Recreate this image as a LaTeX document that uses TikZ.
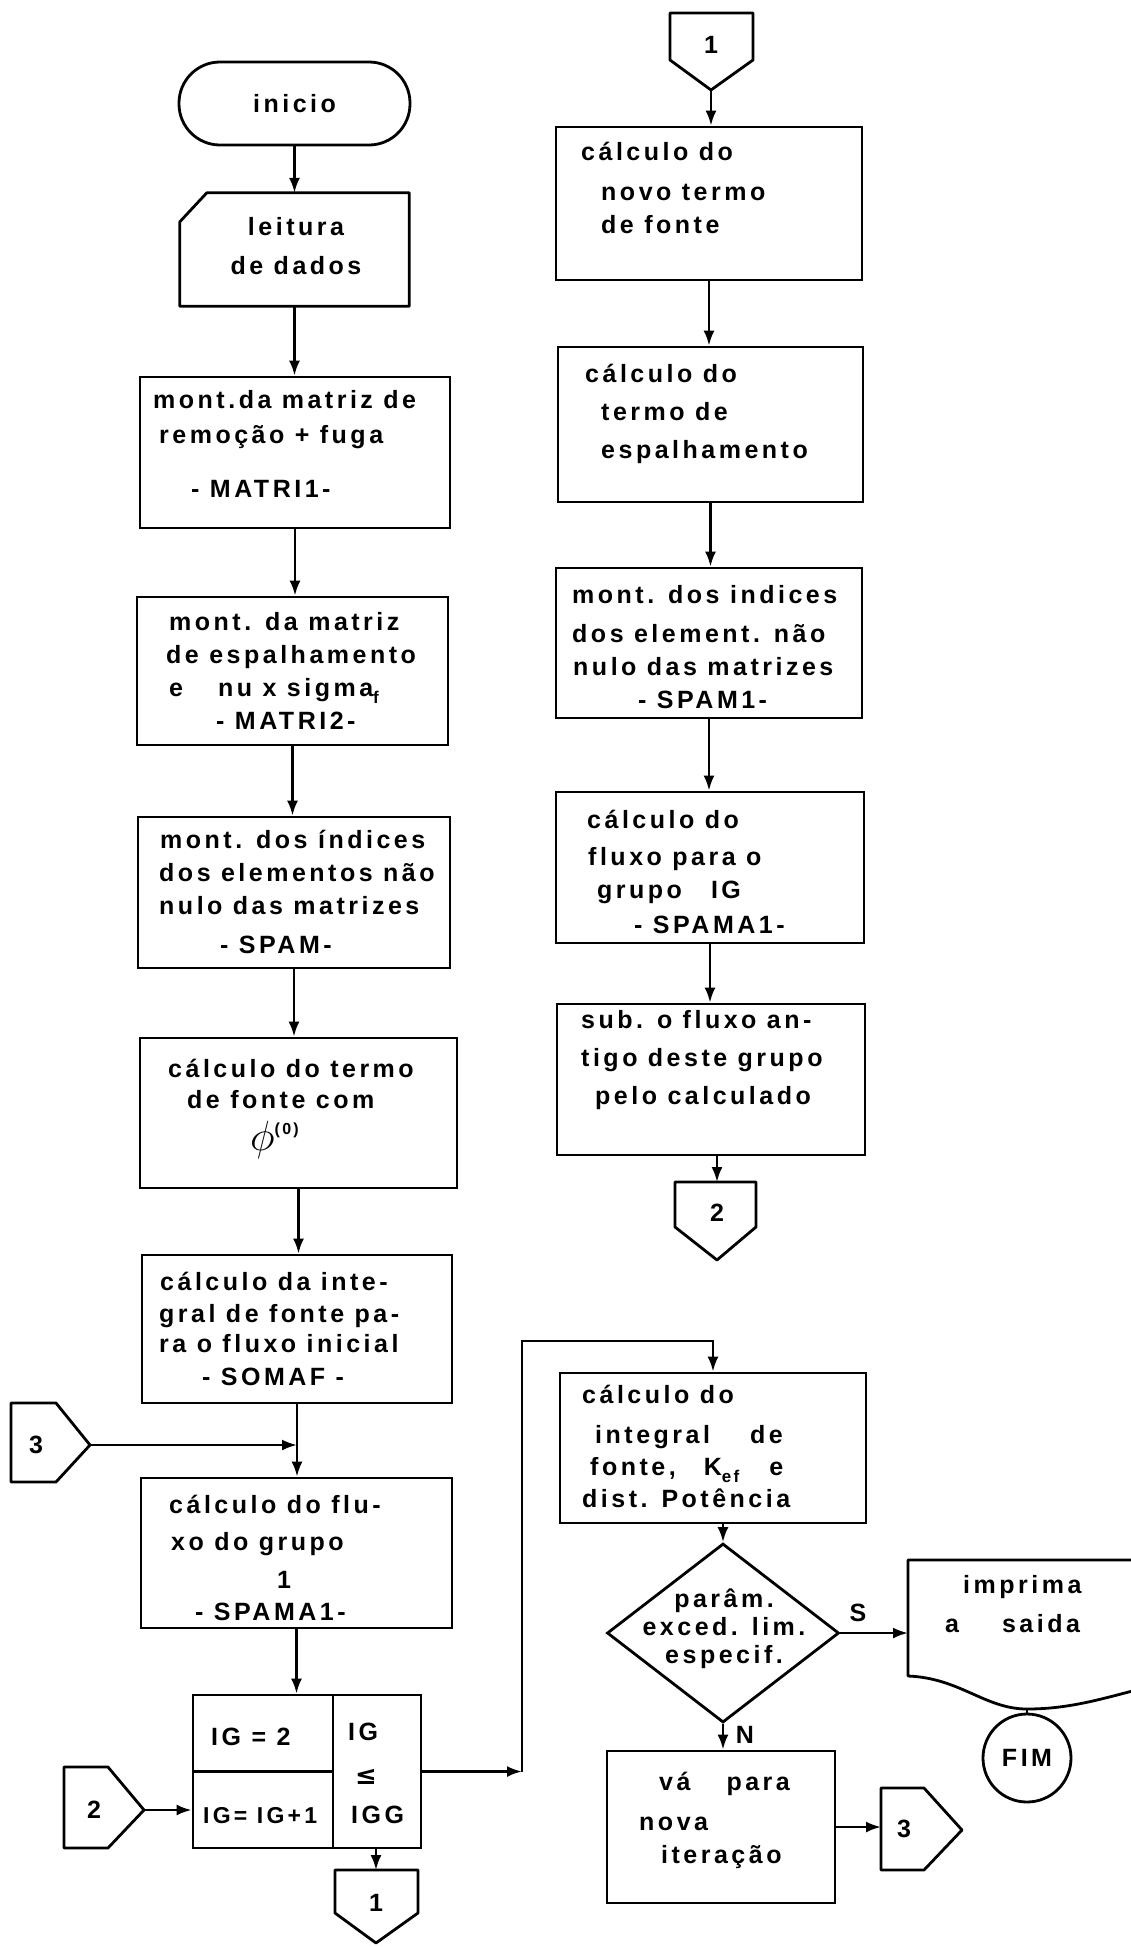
\documentclass[tikz,border=0pt]{standalone}
\usepackage{fontspec}
\usepackage{graphicx}
\newfontfamily\lett{Liberation Sans}[LetterSpace=14]
\newfontfamily\dvs{DejaVu Sans}
\usetikzlibrary{arrows.meta,shapes.geometric,calc}
\newcommand\myst{\rule{0pt}{25pt}}
\newcommand\mysub[1]{\raisebox{-7pt}{\fontsize{17}{17}\selectfont #1}}
\tikzset{
 bx/.style={draw, line width=2.8pt, rectangle, inner sep=0pt},
 shp/.style={line width=2.8pt, line join=round},
 lin/.style={line width=2.5pt},
 arr/.style={line width=2.5pt, -{Latex[length=15pt,width=11pt]}},
 txt/.style={font=\lett\bfseries\fontsize{25}{35}\selectfont, inner sep=0pt, align=left, anchor=north west},
 lbl/.style={font=\lett\bfseries\fontsize{25}{35}\selectfont, inner sep=0pt},
 lbls/.style={font=\lett\bfseries\fontsize{23}{30}\selectfont, inner sep=0pt},
}
\begin{document}
\begin{tikzpicture}[x=1pt,y=-1pt]
\fill[white] (0,0) rectangle (1131,1947);
\useasboundingbox (0,0) rectangle (1131,1947);

% ---------------- left column ----------------
\node[bx, lbl, rounded corners=41pt, minimum width=231pt, minimum height=83pt] (ini) at (294.5,103.5) {inicio};

\node[minimum width=229pt, minimum height=113pt, inner sep=0pt] (leit) at (294.5,249.5) {};
\draw[shp] (leit.south west) -- ($(leit.north west)+(0,29)$) -- ($(leit.north west)+(27,0)$) -- (leit.north east) -- (leit.south east) -- cycle;
\node[lbl, align=center, anchor=north] (tleit) at (296,210) {\myst leitura\\[4pt]de dados};

\node[bx, minimum width=310pt, minimum height=151pt] (m1) at (295,452.5) {};
\node[txt] (tm1) at (153,383) {\myst mont.da matriz de\\\hspace*{6pt}remoção + fuga\\[19pt]\hspace*{38pt}- MATRI1-};

\node[bx, minimum width=311pt, minimum height=148pt] (m2) at (292.5,671) {};
\node[txt] (tm2) at (166,605) {\myst\hspace*{3pt}mont. da matriz\\[-2pt]de espalhamento\\[-2pt]\hspace*{3pt}e\hspace*{35pt}nu x sigma\mysub{f}\\[-2pt]\hspace*{50pt}- MATRI2-};

\node[bx, minimum width=312pt, minimum height=151pt] (spam) at (294,892.5) {};
\node[txt] (tspam) at (159,823) {\myst\hspace*{1pt}mont. dos índices\\[-2pt]dos elementos não\\[-2pt]nulo das matrizes\\[4pt]\hspace*{61pt}- SPAM-};

\node[bx, minimum width=317pt, minimum height=150pt] (phi) at (298.5,1113) {};
\node[txt] (tphi) at (168,1052) {\myst cálculo do termo\\[-4pt]\hspace*{19pt}de fonte com\\[7pt]\hspace*{82pt}\scalebox{1.7}{$\phi$}\raisebox{16pt}{\fontsize{16}{16}\selectfont(0)}};

\node[bx, minimum width=310pt, minimum height=148pt] (somaf) at (297,1329) {};
\node[txt] (tsomaf) at (159,1265) {\myst\hspace*{1pt}cálculo da inte-\\[-3pt]gral de fonte pa-\\[-5pt]ra o fluxo inicial\\[-2pt]\hspace*{43pt}- SOMAF -};

\node[bx, minimum width=311pt, minimum height=150pt] (spa1) at (296.5,1553) {};
\node[txt] (tspa1) at (169,1488) {\myst cálculo do flu-\\[2pt]\hspace*{2pt}xo do grupo\\[3pt]\hspace*{108pt}1\\[-3pt]\hspace*{26pt}- SPAMA1-};

% loop box
\node[bx, minimum width=228pt, minimum height=153pt] (ig) at (307,1771.5) {};
\coordinate (dv) at (333,0);
\draw[shp] (ig.north -| dv) -- (ig.south -| dv);
\draw[shp] (ig.west) -- (ig.west -| dv);
\node[lbl, anchor=base west] (tig1) at (211,1745) {IG = 2};
\node[lbls, anchor=base west] (tig2) at (203,1823) {IG= IG+1};
\node[lbl, anchor=base west] (tig3) at (348,1740) {IG};
\node[inner sep=0pt, font=\dvs\bfseries\fontsize{26}{26}\selectfont] (tig4) at (366,1777) {≤};
\node[lbl, anchor=base west] (tig5) at (351,1823) {IGG};

% left connectors
\draw[shp] (11,1403) -- (56,1403) -- (90,1445) -- (56,1482) -- (11,1482) -- cycle;
\node[lbl] (c3l) at (36,1445) {3};
\coordinate (c3ltip) at (90,1445);

\draw[shp] (64,1767) -- (108,1767) -- (144,1810) -- (108,1848) -- (64,1848) -- cycle;
\node[lbl] (c2l) at (94,1810) {2};
\coordinate (c2ltip) at (144,1810);

\draw[shp] (335,1870) -- (418,1870) -- (418,1913) -- (376,1943) -- (335,1913) -- cycle;
\node[lbl] (c1b) at (376,1903) {1};
\coordinate (c1btop) at (376,1870);

% ---------------- right column ----------------
\draw[shp] (670,13) -- (753,13) -- (753,60) -- (711,90) -- (670,60) -- cycle;
\node[lbl] (c1t) at (711,45) {1};
\coordinate (c1ttip) at (711,90);

\node[bx, minimum width=306pt, minimum height=153pt] (r1) at (709,203.5) {};
\node[txt] (tr1) at (581,135) {\myst cálculo do\\[5pt]\hspace*{20pt}novo termo\\[-2pt]\hspace*{20pt}de fonte};

\node[bx, minimum width=305pt, minimum height=155pt] (r2) at (710.5,424.5) {};
\node[txt] (tr2) at (585,357) {\myst cálculo do\\[3pt]\hspace*{16pt}termo de\\[3pt]\hspace*{16pt}espalhamento};

\node[bx, minimum width=306pt, minimum height=150pt] (sp1r) at (709,643) {};
\node[txt] (tsp1r) at (572,578) {\myst mont. dos indices\\[4pt]dos element. não\\[-2pt]\hspace*{1pt}nulo das matrizes\\[-2pt]\hspace*{66pt}- SPAM1-};

\node[bx, minimum width=308pt, minimum height=151pt] (r4) at (710,867.5) {};
\node[txt] (tr4) at (587,803) {\myst cálculo do\\[2pt]\hspace*{1pt}fluxo para o\\[-2pt]\hspace*{10pt}grupo\hspace*{29pt}IG\\[0pt]\hspace*{47pt}- SPAMA1-};

\node[bx, minimum width=308pt, minimum height=151pt] (r5) at (711,1079.5) {};
\node[txt] (tr5) at (581,1003) {\myst sub. o fluxo an-\\[3pt]tigo deste grupo\\[3pt]\hspace*{14pt}pelo calculado};

\draw[shp] (675,1182) -- (756,1182) -- (756,1227) -- (717,1260) -- (675,1227) -- cycle;
\node[lbl] (c2r) at (717,1213) {2};
\coordinate (c2rtop) at (717,1182);

\node[bx, minimum width=306pt, minimum height=150pt] (r6) at (713,1448) {};
\node[txt] (tr6) at (582,1378) {\myst cálculo do\\[5pt]\hspace*{13pt}integral\hspace*{40pt}de\\[-3pt]\hspace*{8pt}fonte,\hspace*{28pt}K\mysub{ef}\hspace*{30pt}e\\[-3pt]dist. Potência};

\node[draw, diamond, line width=2.8pt, minimum width=232pt, minimum height=179pt, inner sep=0pt] (dec) at (723,1633) {};
\node[lbl, align=center, anchor=north] (tdec) at (724,1582) {\myst parâm.\\[-7pt]exced. lim.\\[-7pt]especif.};
\node[lbl] (ls) at (858,1613) {S};
\node[lbl] (ln) at (745,1735) {N};

% print (document) shape
\draw[shp] (1160,1684) .. controls (1110,1696) and (1075,1709) .. (1027,1709) .. controls (985,1709) and (960,1678) .. (908,1676) -- (908,1560) -- (1160,1560);
\coordinate (impL) at (908,1633);
\coordinate (impB) at (1027,1709);
\node[txt] (timp) at (945,1568) {\myst\hspace*{18pt}imprima\\[4pt]a\hspace*{43pt}saida};

\node[draw, circle, lbl, line width=2.8pt, minimum size=88pt] (fim) at (1027,1758) {FIM};

\node[bx, minimum width=228pt, minimum height=152pt] (va) at (721,1827) {};
\node[txt] (tva) at (639,1765) {\myst\hspace*{20pt}vá\hspace*{36pt}para\\[5pt]nova\\[-2pt]\hspace*{22pt}iteração};

\draw[shp] (881,1788) -- (924,1788) -- (962,1830) -- (924,1870) -- (881,1870) -- cycle;
\node[lbl] (c3r) at (904,1829) {3};
\coordinate (c3rL) at (881,1830);

% ---------------- connectors ----------------
\draw[arr] (ini) -- (leit);
\draw[arr] (leit.south) -- (leit.south |- m1.north);
\draw[arr] (m1.south) -- (m1.south |- m2.north);
\draw[arr] (m2.south) -- (m2.south |- spam.north);
\draw[arr] (spam.south) -- (spam.south |- phi.north);
\draw[arr] (phi.south) -- (phi.south |- somaf.north);
\draw[arr] (somaf.south) -- (somaf.south |- spa1.north);
\draw[arr] (c3ltip) -- (c3ltip -| somaf.south);
\draw[arr] (spa1.south) -- (spa1.south |- ig.north);
\draw[arr] (c2ltip) -- (c2ltip -| ig.west);
\draw[arr] (ig.south -| c1btop) -- (c1btop);
\coordinate (loopA) at (522,1771.5);
\coordinate (loopB) at (522,1341);
\draw[arr] (ig.east) -- (loopA);
\draw[arr] (loopA) -- (loopB) -| (r6.north);

\draw[arr] (c1ttip) -- (c1ttip |- r1.north);
\draw[arr] (r1.south) -- (r1.south |- r2.north);
\draw[arr] (r2.south) -- (r2.south |- sp1r.north);
\draw[arr] (sp1r.south) -- (sp1r.south |- r4.north);
\draw[arr] (r4.south) -- (r4.south |- r5.north);
\draw[arr] (r5.south -| c2rtop) -- (c2rtop);
\draw[arr] (dec.north |- r6.south) -- (dec.north);
\draw[arr] (dec.south) -- (dec.south |- va.north);
\draw[arr] (dec.east) -- (impL);
\draw[arr] (va.east) -- (va.east -| c3rL);
\draw[lin] (impB) -- (fim.north);
\end{tikzpicture}
\end{document}
